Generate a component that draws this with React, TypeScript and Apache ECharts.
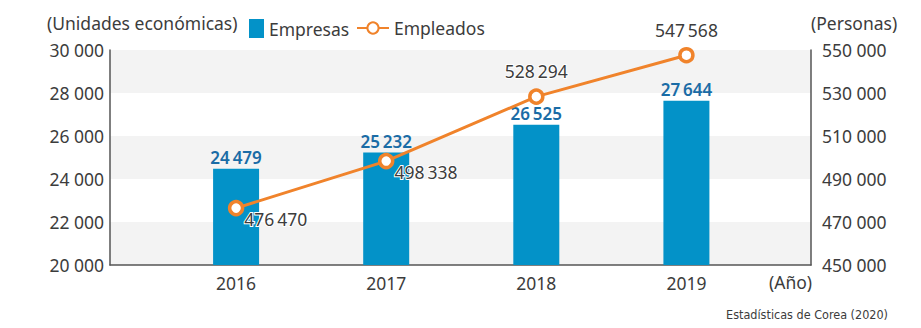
import React, { useEffect, useRef } from "react";
import * as echarts from "echarts";

const years = [2016, 2017, 2018, 2019];
const empresas = [24479, 25232, 26525, 27644];
const empleados = [476470, 498338, 528294, 547568];
const leftTicks = { min: 20000, max: 30000, step: 2000 };
const rightTicks = { min: 450000, max: 550000, step: 20000 };

const FONT = "'Noto Sans', 'DejaVu Sans', sans-serif";
const TEXT = "#3c3c3c";
const AXIS = "#555555";
const BLUE = "#0392c8";
const ORANGE = "#f0832b";
const FS = 17.5;

const spaced = (v: number, sep: string) =>
  String(v).replace(/\B(?=(\d{3})+(?!\d))/g, sep);

export default function App() {
  const ref = useRef<HTMLDivElement>(null);

  useEffect(() => {
    if (!ref.current) return;
    document.body.style.margin = "0";
    const chart = echarts.init(ref.current, undefined, { renderer: "svg" });

    const lineLabel = (i: number) =>
      i < 2
        ? { position: "right", distance: 0, offset: [0, 11] }
        : { position: "top", distance: 8 };

    chart.setOption({
      animation: false,
      textStyle: { fontFamily: FONT },
      grid: { left: 110, right: 110, top: 50, bottom: 63 },
      legend: [
        {
          data: ["Empresas"],
          left: 244,
          top: 14,
          itemWidth: 15,
          itemHeight: 19,
          itemGap: 8,
          icon: "rect",
          textStyle: { fontFamily: FONT, fontSize: FS, color: TEXT },
        },
        {
          data: ["Empleados"],
          left: 351,
          top: 14,
          itemWidth: 32,
          itemHeight: 14,
          textStyle: { fontFamily: FONT, fontSize: FS, color: TEXT },
        },
      ],
      xAxis: {
        type: "value",
        min: 2015.16,
        max: 2019.83,
        axisLine: { show: true, lineStyle: { color: AXIS, width: 1.5 } },
        axisTick: {
          show: true,
          inside: true,
          length: 6,
          customValues: years,
          lineStyle: { color: AXIS },
        },
        axisLabel: {
          customValues: years,
          formatter: (v: number) => String(v),
          fontSize: FS,
          color: TEXT,
          margin: 9,
          fontFamily: FONT,
        },
        splitLine: { show: false },
      },
      yAxis: [
        {
          type: "value",
          min: leftTicks.min,
          max: leftTicks.max,
          interval: leftTicks.step,
          axisLine: { show: true, lineStyle: { color: AXIS, width: 1.5 } },
          axisTick: { show: false },
          axisLabel: {
            formatter: (v: number) => spaced(v, " "),
            fontSize: FS,
            color: TEXT,
            margin: 6,
            fontFamily: FONT,
          },
          splitLine: { show: false },
          splitArea: { show: true, areaStyle: { color: ["#f3f3f3", "#ffffff"] } },
        },
        {
          type: "value",
          min: rightTicks.min,
          max: rightTicks.max,
          interval: rightTicks.step,
          axisLine: { show: true, lineStyle: { color: AXIS, width: 1.5 } },
          axisTick: { show: false },
          axisLabel: {
            formatter: (v: number) => spaced(v, " "),
            fontSize: FS,
            color: TEXT,
            margin: 11,
            fontFamily: FONT,
          },
          splitLine: { show: false },
        },
      ],
      series: [
        {
          name: "Empresas",
          type: "bar",
          yAxisIndex: 0,
          barWidth: 46,
          itemStyle: { color: BLUE },
          data: years.map((y, i) => [y, empresas[i]]),
          label: {
            show: true,
            position: "top",
            distance: 3,
            formatter: (p: any) => spaced(p.value[1], "\u2009"),
            fontSize: 17,
            fontWeight: 600,
            color: "#1a6ca6",
            fontFamily: FONT,
          },
          z: 2,
        },
        {
          name: "Empleados",
          type: "line",
          yAxisIndex: 1,
          symbol: "circle",
          symbolSize: 13,
          lineStyle: { color: ORANGE, width: 3 },
          itemStyle: { color: "#ffffff", borderColor: ORANGE, borderWidth: 3.5 },
          data: years.map((y, i) => ({
            value: [y, empleados[i]],
            label: lineLabel(i),
          })),
          label: {
            show: true,
            formatter: (p: any) => spaced(p.value[1], "\u2009"),
            fontSize: FS,
            color: TEXT,
            fontFamily: FONT,
            textBorderColor: "#ffffff",
            textBorderWidth: 2,
          },
          z: 5,
        },
      ],
      graphic: [
        {
          type: "text",
          left: 47,
          top: 14,
          style: { text: "(Unidades económicas)", font: `${FS}px ${FONT}`, fill: TEXT },
        },
        {
          type: "text",
          left: 811,
          top: 14,
          style: { text: "(Personas)", font: `${FS}px ${FONT}`, fill: TEXT },
        },
        {
          type: "text",
          left: 769,
          top: 273,
          style: { text: "(Año)", font: `${FS}px ${FONT}`, fill: TEXT },
        },
        {
          type: "text",
          right: 33,
          top: 308,
          style: {
            text: "Estadísticas de Corea (2020)",
            font: `12.5px 'Liberation Sans Narrow', 'DejaVu Sans Condensed', sans-serif`,
            fill: TEXT,
          },
        },
      ],
    });

    return () => chart.dispose();
  }, []);

  return <div ref={ref} style={{ width: 921, height: 328 }} />;
}
